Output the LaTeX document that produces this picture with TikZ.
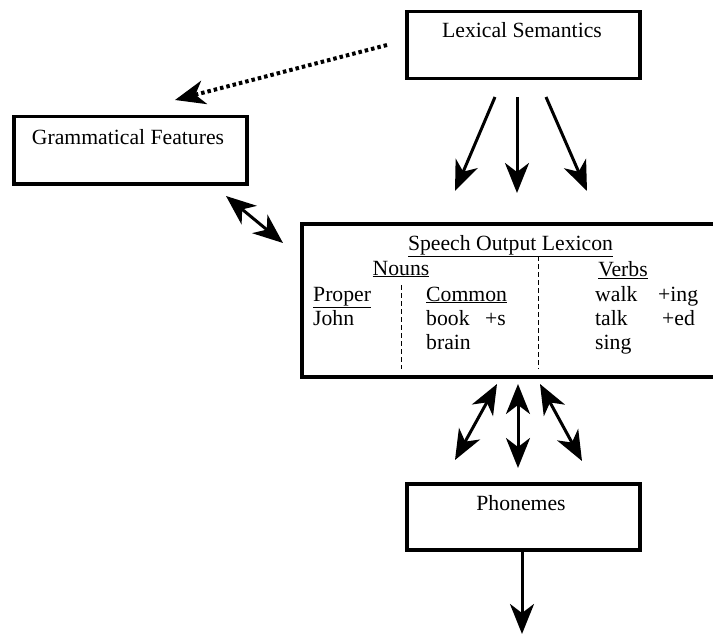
\documentclass[tikz,border=0pt]{standalone}
\usepackage{fontspec}
\setmainfont{Liberation Serif}
\usetikzlibrary{arrows.meta}
\begin{document}
\begin{tikzpicture}[x=1pt,y=-1pt,
  tip/.style={},
  box/.style={draw,line width=3.5pt,inner sep=0pt},
  arr/.style={line width=3pt,-{Stealth[length=30pt,width=24pt,inset=9pt]}},
  darr/.style={line width=3pt,{Stealth[length=30pt,width=24pt,inset=9pt]}-{Stealth[length=30pt,width=24pt,inset=9pt]}},
  dotarr/.style={line width=4pt,dash pattern=on 3.5pt off 3pt,-{Stealth[length=30pt,width=24pt,inset=9pt]}},
  txt/.style={font=\fontsize{21.7}{24}\selectfont,inner sep=0pt},
  lbl/.style={txt,anchor=base west},
  dsh/.style={line width=1pt,dash pattern=on 5pt off 3pt}]
\useasboundingbox (0,0) rectangle (713,634);
\fill[white] (0,0) rectangle (713,634);
% boxes
\node[box,minimum width=233pt,minimum height=67pt,anchor=north west] (ls) at (405,10) {};
\node[txt,anchor=base] (lstxt) at (522,38) {Lexical Semantics};
\node[box,minimum width=233pt,minimum height=67pt,anchor=north west] (gf) at (12,115) {};
\node[txt,anchor=base] (gftxt) at (128,145) {Grammatical Features};
\node[box,minimum width=440pt,minimum height=153pt,anchor=north west] (lex) at (300,222) {};
\node[box,minimum width=233pt,minimum height=66pt,anchor=north west] (ph) at (405,482) {};
\node[txt,anchor=base] (phtxt) at (521,510) {Phonemes};
% lexicon contents
\node[txt,anchor=base] (title) at (510.5,250) {\underline{Speech Output Lexicon}};
\node[txt,anchor=base] (nouns) at (401,275) {\underline{Nouns}};
\node[txt,anchor=base] (verbs) at (623,276) {\underline{Verbs}};
\node[lbl] (proper) at (313,301) {\underline{Proper}};
\node[lbl] (common) at (426,301) {\underline{Common}};
\node[lbl] (walk) at (595,301) {walk};
\node[lbl] (ing) at (658,301) {+ing};
\node[lbl] (john) at (313,325) {John};
\node[lbl] (book) at (426,325) {book};
\node[lbl] (s) at (485,325) {+s};
\node[lbl] (talk) at (595,325) {talk};
\node[lbl] (ed) at (662,325) {+ed};
\node[lbl] (brain) at (426,349) {brain};
\node[lbl] (sing) at (595,349) {sing};
\coordinate (d1a) at (401,285); \coordinate (d1b) at (401,369);
\coordinate (d2a) at (538,256); \coordinate (d2b) at (538,369);
\draw[dsh] (d1a) -- (d1b);
\draw[dsh] (d2a) -- (d2b);
% connectors
\coordinate (dA) at (387,45); \coordinate (dB) at (175,100);
\draw[dotarr] (dA) -- (dB);
\coordinate (t1a) at (495,97); \coordinate (t1b) at (455,191);
\coordinate (t2a) at (517,97); \coordinate (t2b) at (517,193);
\coordinate (t3a) at (546,97); \coordinate (t3b) at (587,191);
\draw[arr] (t1a) -- (t1b);
\draw[arr] (t2a) -- (t2b);
\draw[arr] (t3a) -- (t3b);
\coordinate (gA) at (226,196); \coordinate (gB) at (283,243);
\draw[darr] (gA) -- (gB);
\coordinate (b1a) at (497,384); \coordinate (b1b) at (455,460);
\coordinate (b2a) at (518,384); \coordinate (b2b) at (518,468);
\coordinate (b3a) at (540,384); \coordinate (b3b) at (582,461);
\draw[darr] (b1a) -- (b1b);
\draw[darr] (b2a) -- (b2b);
\draw[darr] (b3a) -- (b3b);
\coordinate (e0) at (522,552);
\coordinate (e) at (522,634);
\draw[arr] (e0) -- (e);
\end{tikzpicture}
\end{document}
